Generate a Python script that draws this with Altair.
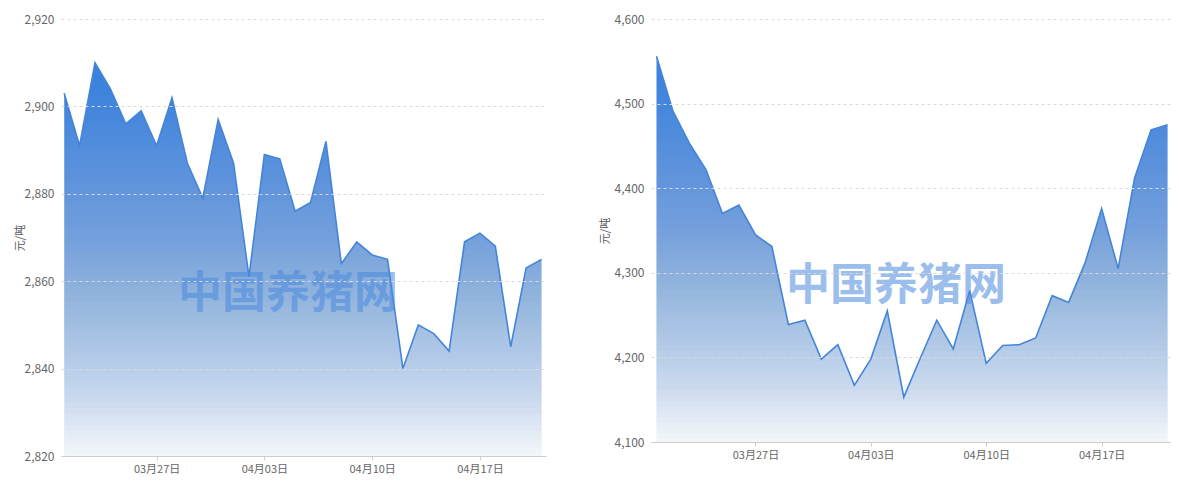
import altair as alt
import pandas as pd

dates = [d.strftime("%Y-%m-%d") for d in pd.date_range("2024-03-21", "2024-04-21", freq="D")]

left_values = [2903, 2891, 2910, 2904, 2896, 2899, 2891, 2902, 2887, 2879,
               2897, 2887, 2861, 2889, 2888, 2876, 2878, 2892, 2864, 2869,
               2866, 2865, 2840, 2850, 2848, 2844, 2869, 2871, 2868, 2845,
               2863, 2865]
right_values = [4556, 4491, 4453, 4422, 4370, 4380, 4345, 4331, 4239, 4244,
                4198, 4215, 4167, 4198, 4255, 4153, 4199, 4244, 4210, 4279,
                4193, 4214, 4215, 4223, 4273, 4265, 4312, 4376, 4305, 4412,
                4469, 4475]
left_ticks = [2820, 2840, 2860, 2880, 2900, 2920]
right_ticks = [4100, 4200, 4300, 4400, 4500, 4600]
x_tick_dates = [(3, 27), (4, 3), (4, 10), (4, 17)]
unit_label = "元/吨"
watermark = "中国养猪网"

FONT = "Noto Sans CJK SC"
TOP_BLUE = "#3a83dc"
LINE_BLUE = "#4585d8"
N_BANDS = 70

x_vals = [alt.DateTime(year=2024, month=m, date=d, utc=True) for m, d in x_tick_dates]


def fade_opacities(n):
    # per-layer opacity of nested white rects so that the stacked whiteness
    # grows smoothly from the top of the area down to the baseline (style only)
    out, prev = [], 0.0
    for i in range(n):
        target = 0.965 * ((i + 0.5) / n) ** 1.2
        out.append(1 - (1 - target) / (1 - prev))
        prev = target
    return out


def panel(values, ticks, width, height, dom_start_h, dom_end_h, extent, tpad, wm_x, wm_y):
    df = pd.DataFrame({"date": dates, "value": values})
    vmax, vmin = max(values), ticks[0]
    step = (vmax - vmin) / N_BANDS
    bands = pd.DataFrame({
        "hi": [vmax - step * (i + 0.5) for i in range(N_BANDS)],
        "lo": [vmin] * N_BANDS,
        "op": fade_opacities(N_BANDS),
    })
    xdom = [alt.DateTime(year=2024, month=3, date=20, hours=24 - dom_start_h, utc=True),
            alt.DateTime(year=2024, month=4, date=21, hours=dom_end_h, utc=True)]
    x = alt.X("date:T", scale=alt.Scale(type="utc", domain=xdom),
              axis=alt.Axis(values=x_vals,
                            labelExpr="utcFormat(datum.value, '%m月%d日')",
                            title=None, grid=False, domainColor="#cccccc",
                            tickColor="#cccccc", tickSize=4, labelPadding=3,
                            labelColor="#666666", labelFont=FONT, labelFontSize=11,
                            zindex=1))
    yscale = alt.Scale(domain=[ticks[0], ticks[-1]], zero=False)
    y = alt.Y("value:Q", scale=yscale,
              axis=alt.Axis(values=ticks, format=",d", title=unit_label,
                            titleFont=FONT, titleFontSize=11, titleFontWeight="normal",
                            titleColor="#555555", titlePadding=tpad,
                            labelColor="#666666", labelFont=FONT, labelFontSize=12,
                            labelPadding=7, domain=False, ticks=False,
                            minExtent=extent, maxExtent=extent,
                            gridColor="#d9d9d9", gridDash=[3, 3], zindex=1))
    area = alt.Chart(df).mark_area(color=TOP_BLUE, opacity=1, clip=True).encode(x=x, y=y)
    fade = alt.Chart(bands).mark_rect(color="white", clip=True).encode(
        x=alt.value(0), x2=alt.value(width),
        y=alt.Y("hi:Q", scale=yscale), y2="lo:Q",
        opacity=alt.Opacity("op:Q", scale=None, legend=None),
    )
    line = alt.Chart(df).mark_line(color=LINE_BLUE, strokeWidth=1.6, clip=True).encode(x=x, y=y)
    wm = alt.Chart(pd.DataFrame({"t": [watermark]})).mark_text(
        font=FONT, fontSize=44, fontWeight="bold", color="#4a8ae0", opacity=0.55,
        align="center", baseline="middle",
    ).encode(text="t:N", x=alt.value(wm_x), y=alt.value(wm_y))
    return alt.layer(area, fade, line, wm).properties(width=width, height=height)


left = panel(left_values, left_ticks, 485, 437, 4.7, 7.8, 36, 0, 227, 276)
right = panel(right_values, right_ticks, 520, 423, 7.2, 5.7, 38, 3, 245, 268)

chart = alt.hconcat(left, right, spacing=53).properties(
    padding={"left": 6, "top": 5, "right": 0, "bottom": 0}
).configure_view(stroke=None)

chart.save("out.html", embed_options={"renderer": "svg", "actions": False})
